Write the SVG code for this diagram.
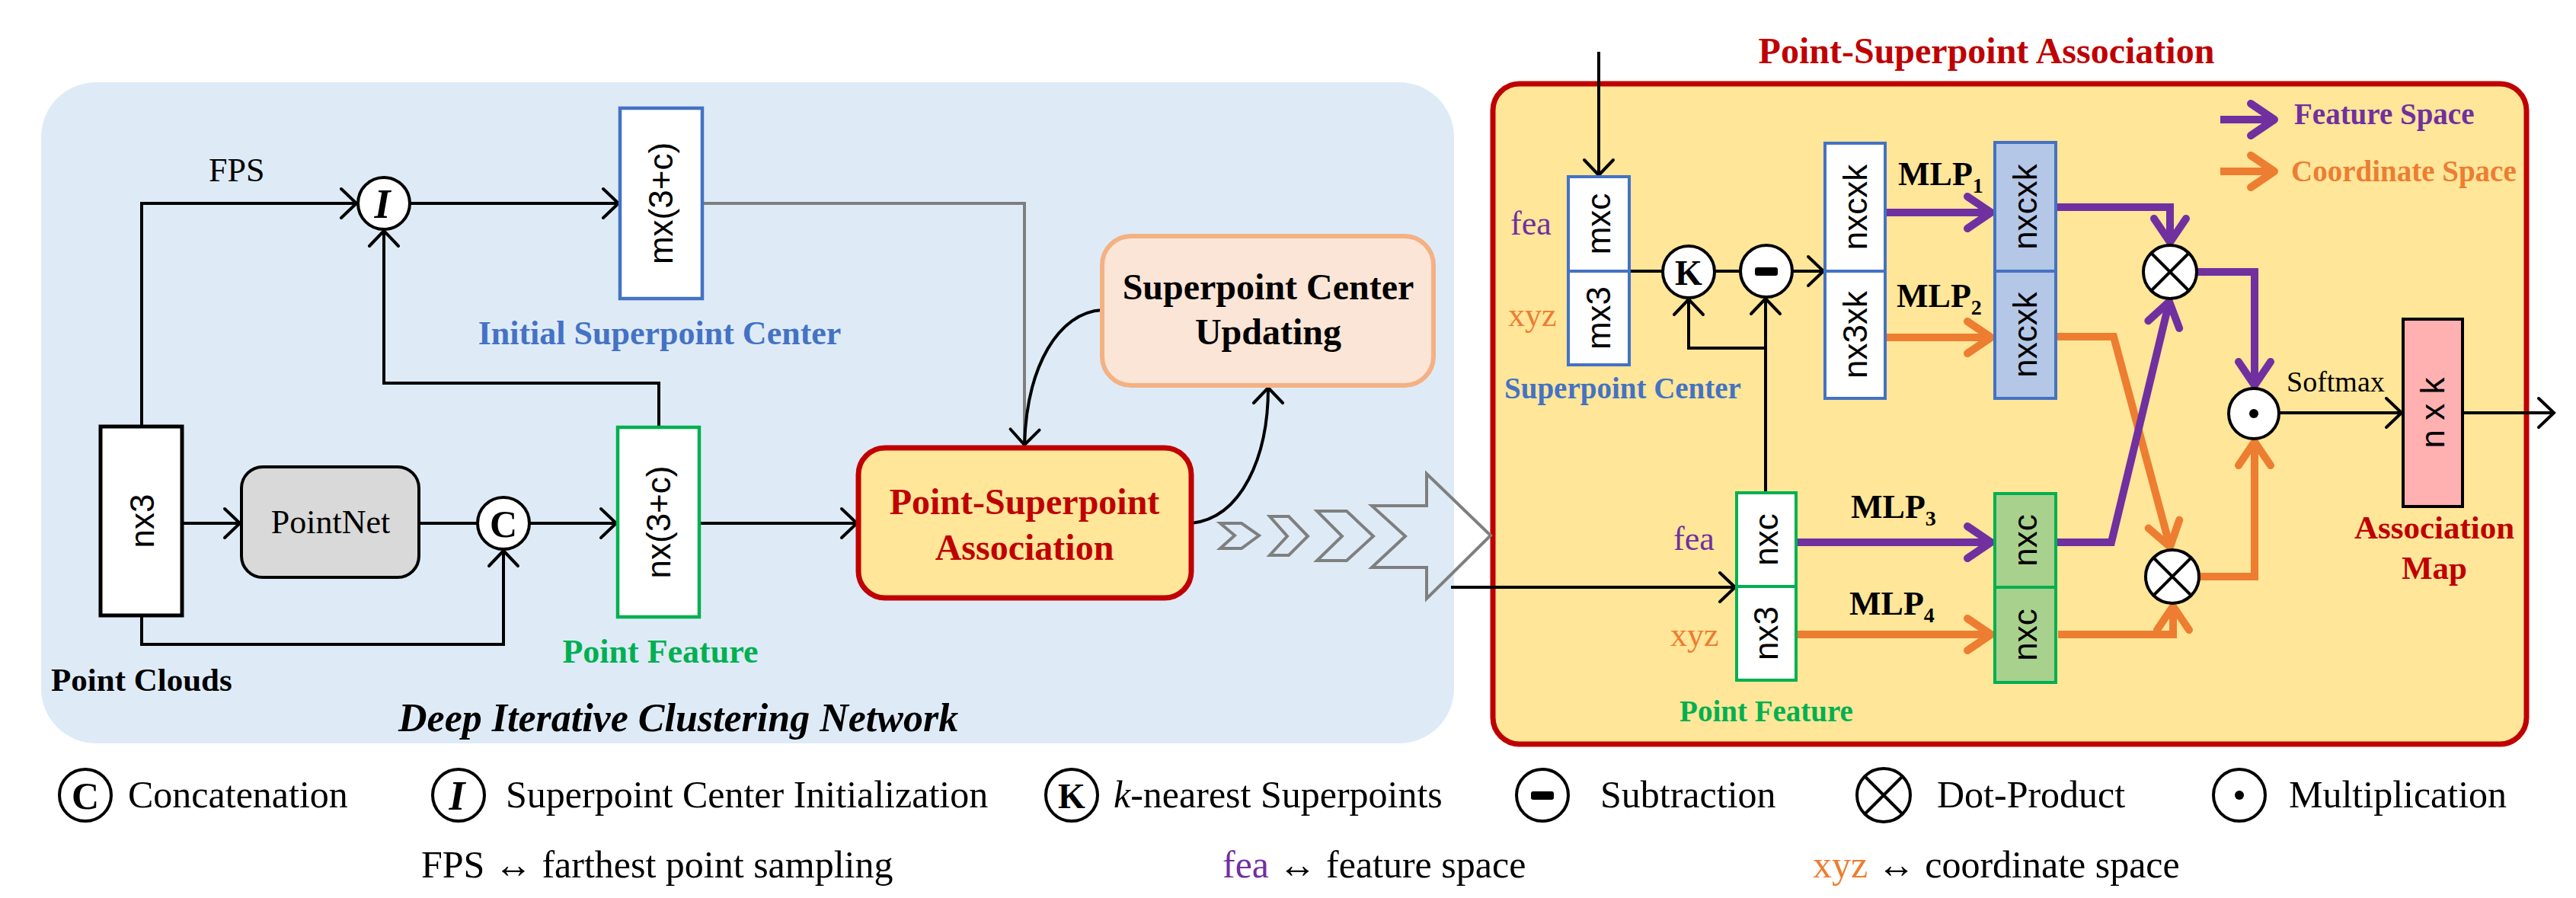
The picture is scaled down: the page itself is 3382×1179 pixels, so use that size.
<svg xmlns="http://www.w3.org/2000/svg" width="3382" height="1179" viewBox="0 0 3382 1179">
<style>
.sf{font-family:'Liberation Serif','Times New Roman',serif}
.ss{font-family:'Liberation Sans',Arial,sans-serif}
.bt{font-family:'Liberation Sans',Arial,sans-serif;font-size:44px;text-anchor:middle;fill:#000}
.blk{fill:none;stroke:#000;stroke-width:4}
.gry{fill:none;stroke:#7F7F7F;stroke-width:4}
.pur{fill:none;stroke:#7030A0;stroke-width:10}
.org{fill:none;stroke:#ED7D31;stroke-width:10}
.op{fill:#fff;stroke:#000;stroke-width:4}
.lg{font-family:'Liberation Serif','Times New Roman',serif;font-size:50px;fill:#000}
</style>
<defs>
<marker id="ab" markerUnits="userSpaceOnUse" orient="auto" viewBox="-30 -25 36 50" markerWidth="36" markerHeight="50" refX="0" refY="0">
<path d="M-20,-19 L0,0 L-20,19" fill="none" stroke="#000" stroke-width="4" stroke-linecap="round"/>
</marker>
<marker id="ap" markerUnits="userSpaceOnUse" orient="auto" viewBox="-45 -30 55 60" markerWidth="55" markerHeight="60" refX="0" refY="0">
<path d="M-31,-21 L0,0 L-31,21" fill="none" stroke="#7030A0" stroke-width="10" stroke-linecap="round" stroke-linejoin="round"/>
</marker>
<marker id="ao" markerUnits="userSpaceOnUse" orient="auto" viewBox="-45 -30 55 60" markerWidth="55" markerHeight="60" refX="0" refY="0">
<path d="M-31,-21 L0,0 L-31,21" fill="none" stroke="#ED7D31" stroke-width="10" stroke-linecap="round" stroke-linejoin="round"/>
</marker>
</defs>

<!-- backgrounds -->
<g id="dicn-panel">
<rect x="54" y="108" width="1855" height="868" rx="72" fill="#DEEBF7"/>
<text class="sf" x="523" y="960" font-size="52" font-weight="bold" font-style="italic">Deep Iterative Clustering Network</text>
</g>
<g id="psa-panel">
<text class="sf" x="2608" y="83" font-size="48" font-weight="bold" fill="#C00000" text-anchor="middle">Point-Superpoint Association</text>
<rect x="1960" y="110" width="1357" height="867" rx="35" fill="#FFE699" stroke="#C00000" stroke-width="7"/>
</g>

<!-- connectors -->
<g id="connectors">
<path class="blk" d="M186,560 V267 H468" marker-end="url(#ab)"/>
<path class="blk" d="M538,267 H812" marker-end="url(#ab)"/>
<path class="gry" d="M922,267 H1345 V584"/>
<path class="blk" d="M239,687 H315" marker-end="url(#ab)"/>
<path class="blk" d="M550,687 H627"/>
<path class="blk" d="M695,687 H809" marker-end="url(#ab)"/>
<path class="blk" d="M186,808 V846 H661 V723" marker-end="url(#ab)"/>
<path class="blk" d="M865,561 V503 H504 V303" marker-end="url(#ab)"/>
<path class="blk" d="M918,687 H1125" marker-end="url(#ab)"/>
<path class="blk" d="M1447,407 C1390,410 1348,480 1345,584" marker-end="url(#ab)"/>
<path class="blk" d="M1564,687 C1630,680 1665,600 1665,509" marker-end="url(#ab)"/>
<g class="gry">
<polygon points="1602,687 1630,687 1653,703 1630,720 1602,720 1621,703"/>
<polygon points="1667,678 1692,678 1717,704 1692,729 1667,729 1690,704"/>
<polygon points="1729,671 1768,671 1803,704 1768,736 1729,736 1762,704"/>
<polygon points="1801,664 1873,664 1873,622 1957,703 1873,786 1873,745 1801,745 1845,704"/>
</g>
<!-- right panel black -->
<path class="blk" d="M2099,68 V230" marker-end="url(#ab)"/>
<path class="blk" d="M2139,356 H2183"/>
<path class="blk" d="M2251,356 H2285"/>
<path class="blk" d="M2353,356 H2394" marker-end="url(#ab)"/>
<path class="blk" d="M2318,647 V392" marker-end="url(#ab)"/>
<path class="blk" d="M2318,457 H2217 V393" marker-end="url(#ab)"/>
<path class="blk" d="M1905,771 H2278" marker-end="url(#ab)"/>
<path class="blk" d="M2992,542 H3153" marker-end="url(#ab)"/>
<path class="blk" d="M3233,542 H3353" marker-end="url(#ab)"/>
<!-- purple / orange -->
<path class="pur" d="M2475,279 H2614" marker-end="url(#ap)"/>
<path class="org" d="M2475,443 H2614" marker-end="url(#ao)"/>
<path class="pur" d="M2358,712 H2614" marker-end="url(#ap)"/>
<path class="org" d="M2358,833 H2614" marker-end="url(#ao)"/>
<path class="pur" d="M2699,272 H2849 V318" marker-end="url(#ap)"/>
<path class="org" d="M2700,442 H2775 L2849,718" marker-end="url(#ao)"/>
<path class="pur" d="M2699,712 H2772 L2848,396" marker-end="url(#ap)"/>
<path class="org" d="M2702,833 H2853 V796" marker-end="url(#ao)"/>
<path class="pur" d="M2884,357 H2960 V506" marker-end="url(#ap)"/>
<path class="org" d="M2887,757 H2960 V580" marker-end="url(#ao)"/>
<path class="pur" d="M2915,157 H2986" marker-end="url(#ap)" stroke-width="11"/>
<path class="org" d="M2915,225 H2986" marker-end="url(#ao)" stroke-width="11"/>
</g>

<!-- left nodes -->
<g id="point-clouds">
<rect x="132" y="560" width="107" height="248" fill="#fff" stroke="#000" stroke-width="5"/>
<text class="bt" transform="translate(185.5,684) rotate(-90)" y="16">nx3</text>
<text class="sf" x="67" y="907" font-size="43" font-weight="bold">Point Clouds</text>
</g>
<g id="fps-label"><text class="sf" x="274" y="238" font-size="44">FPS</text></g>
<g id="pointnet">
<rect x="317" y="613" width="233" height="145" rx="28" fill="#D9D9D9" stroke="#000" stroke-width="4"/>
<text class="sf" x="434" y="700" font-size="44" text-anchor="middle">PointNet</text>
</g>
<g id="concat-op">
<circle class="op" cx="661" cy="687" r="34"/>
<text class="sf" x="661" y="705" font-size="50" font-weight="bold" text-anchor="middle">C</text>
</g>
<g id="init-op">
<circle class="op" cx="504" cy="267" r="34"/>
<text class="sf" x="502" y="286" font-size="54" font-weight="bold" font-style="italic" text-anchor="middle">I</text>
</g>
<g id="initial-superpoint-center">
<rect x="814" y="142" width="108" height="250" fill="#fff" stroke="#4472C4" stroke-width="4.5"/>
<text class="bt" transform="translate(868,267) rotate(-90)" y="15">mx(3+c)</text>
<text class="sf" x="866" y="452" font-size="44" font-weight="bold" fill="#4472C4" text-anchor="middle">Initial Superpoint Center</text>
</g>
<g id="point-feature-left">
<rect x="811" y="561" width="107" height="249" fill="#fff" stroke="#00B050" stroke-width="4.5"/>
<text class="bt" transform="translate(864.5,685.5) rotate(-90)" y="15">nx(3+c)</text>
<text class="sf" x="867" y="870" font-size="44" font-weight="bold" fill="#00B050" text-anchor="middle">Point Feature</text>
</g>
<g id="psa-node">
<rect x="1127" y="588" width="437" height="197" rx="35" fill="#FFE699" stroke="#C00000" stroke-width="7"/>
<text class="sf" x="1345" y="675" font-size="48" font-weight="bold" fill="#C00000" text-anchor="middle">Point-Superpoint</text>
<text class="sf" x="1345" y="735" font-size="48" font-weight="bold" fill="#C00000" text-anchor="middle">Association</text>
</g>
<g id="scu-node">
<rect x="1447" y="310" width="435" height="196" rx="38" fill="#FBE5D6" stroke="#F4B183" stroke-width="6"/>
<text class="sf" x="1665" y="393" font-size="48" font-weight="bold" text-anchor="middle">Superpoint Center</text>
<text class="sf" x="1665" y="452" font-size="48" font-weight="bold" text-anchor="middle">Updating</text>
</g>

<!-- right nodes -->
<g id="superpoint-center">
<rect x="2059" y="232" width="80" height="247" fill="#fff" stroke="#4472C4" stroke-width="4"/>
<line x1="2059" y1="356" x2="2139" y2="356" stroke="#4472C4" stroke-width="4"/>
<text class="bt" transform="translate(2099,294) rotate(-90)" y="15">mxc</text>
<text class="bt" transform="translate(2099,417.5) rotate(-90)" y="15">mx3</text>
<text class="sf" x="1983" y="308" font-size="44" fill="#7030A0">fea</text>
<text class="sf" x="1980" y="428" font-size="44" fill="#ED7D31">xyz</text>
<text class="sf" x="1975" y="523" font-size="39" font-weight="bold" fill="#4472C4">Superpoint Center</text>
</g>
<g id="knn-op">
<circle class="op" cx="2217" cy="357" r="34"/>
<text class="sf" x="2217" y="374" font-size="46" font-weight="bold" text-anchor="middle">K</text>
</g>
<g id="sub-op">
<circle class="op" cx="2319" cy="356" r="34"/>
<rect x="2304" y="351" width="30" height="11" rx="3" fill="#000"/>
</g>
<g id="grouped">
<rect x="2396" y="188" width="79" height="335" fill="#fff" stroke="#4472C4" stroke-width="4"/>
<line x1="2396" y1="356" x2="2475" y2="356" stroke="#4472C4" stroke-width="4"/>
<text class="bt" transform="translate(2435.5,272) rotate(-90)" y="15">nxcxk</text>
<text class="bt" transform="translate(2435.5,439.5) rotate(-90)" y="15">nx3xk</text>
</g>
<g id="mlp-labels">
<text class="sf" x="2492" y="243" font-size="44" font-weight="bold">MLP<tspan font-size="28" dy="10">1</tspan></text>
<text class="sf" x="2490" y="403" font-size="44" font-weight="bold">MLP<tspan font-size="28" dy="10">2</tspan></text>
<text class="sf" x="2430" y="680" font-size="44" font-weight="bold">MLP<tspan font-size="28" dy="10">3</tspan></text>
<text class="sf" x="2428" y="807" font-size="44" font-weight="bold">MLP<tspan font-size="28" dy="10">4</tspan></text>
</g>
<g id="embedded-center">
<rect x="2619" y="187" width="80" height="336" fill="#B4C7E7" stroke="#4472C4" stroke-width="4"/>
<line x1="2619" y1="356" x2="2699" y2="356" stroke="#4472C4" stroke-width="4"/>
<text class="bt" transform="translate(2659,271.5) rotate(-90)" y="15">nxcxk</text>
<text class="bt" transform="translate(2659,439.5) rotate(-90)" y="15">nxcxk</text>
</g>
<g id="point-feature-right">
<rect x="2280" y="647" width="78" height="246" fill="#fff" stroke="#00B050" stroke-width="4"/>
<line x1="2280" y1="770" x2="2358" y2="770" stroke="#00B050" stroke-width="4"/>
<text class="bt" transform="translate(2319,708.5) rotate(-90)" y="15">nxc</text>
<text class="bt" transform="translate(2319,831.5) rotate(-90)" y="15">nx3</text>
<text class="sf" x="2197" y="722" font-size="44" fill="#7030A0">fea</text>
<text class="sf" x="2193" y="848" font-size="44" fill="#ED7D31">xyz</text>
<text class="sf" x="2319" y="947" font-size="39" font-weight="bold" fill="#00B050" text-anchor="middle">Point Feature</text>
</g>
<g id="embedded-point">
<rect x="2619" y="648" width="80" height="248" fill="#A9D18E" stroke="#00B050" stroke-width="4"/>
<line x1="2619" y1="771" x2="2699" y2="771" stroke="#00B050" stroke-width="4"/>
<text class="bt" transform="translate(2659,709.5) rotate(-90)" y="15">nxc</text>
<text class="bt" transform="translate(2659,833.5) rotate(-90)" y="15">nxc</text>
</g>
<g id="dot-op-1">
<circle class="op" cx="2849" cy="357" r="35"/>
<path d="M2824,332 L2874,382 M2874,332 L2824,382" stroke="#000" stroke-width="4"/>
</g>
<g id="dot-op-2">
<circle class="op" cx="2852" cy="757" r="35"/>
<path d="M2827,732 L2877,782 M2877,732 L2827,782" stroke="#000" stroke-width="4"/>
</g>
<g id="mul-op">
<circle class="op" cx="2959" cy="543" r="33"/>
<circle cx="2959" cy="543" r="6" fill="#000"/>
</g>
<g id="softmax-label"><text class="sf" x="3002" y="514" font-size="38">Softmax</text></g>
<g id="association-map">
<rect x="3155" y="419" width="78" height="246" fill="#FFB0B0" stroke="#000" stroke-width="4"/>
<text class="bt" transform="translate(3194,542) rotate(-90)" y="15">n x k</text>
<text class="sf" x="3196" y="707" font-size="43" font-weight="bold" fill="#C00000" text-anchor="middle">Association</text>
<text class="sf" x="3196" y="760" font-size="43" font-weight="bold" fill="#C00000" text-anchor="middle">Map</text>
</g>
<g id="space-legend">
<text class="sf" x="3012" y="163" font-size="39" font-weight="bold" fill="#7030A0">Feature Space</text>
<text class="sf" x="3008" y="238" font-size="39" font-weight="bold" fill="#ED7D31">Coordinate Space</text>
</g>

<!-- legend -->
<g id="legend">
<circle class="op" cx="112" cy="1044" r="34"/>
<text class="sf" x="112" y="1062" font-size="50" font-weight="bold" text-anchor="middle">C</text>
<text class="lg" x="168" y="1060">Concatenation</text>
<circle class="op" cx="602" cy="1044" r="34"/>
<text class="sf" x="600" y="1063" font-size="54" font-weight="bold" font-style="italic" text-anchor="middle">I</text>
<text class="lg" x="664" y="1060">Superpoint Center Initialization</text>
<circle class="op" cx="1407" cy="1044" r="34"/>
<text class="sf" x="1407" y="1061" font-size="46" font-weight="bold" text-anchor="middle">K</text>
<text class="lg" x="1462" y="1060"><tspan font-style="italic">k</tspan>-nearest Superpoints</text>
<circle class="op" cx="2025" cy="1044" r="34"/>
<rect x="2010" y="1039" width="30" height="11" rx="3" fill="#000"/>
<text class="lg" x="2101" y="1060">Subtraction</text>
<circle class="op" cx="2473" cy="1044" r="35"/>
<path d="M2448,1019 L2498,1069 M2498,1019 L2448,1069" stroke="#000" stroke-width="4"/>
<text class="lg" x="2543" y="1060">Dot-Product</text>
<circle class="op" cx="2940" cy="1044" r="34"/>
<circle cx="2940" cy="1044" r="6" fill="#000"/>
<text class="lg" x="3005" y="1060">Multiplication</text>
<text class="lg" x="553" y="1152">FPS ↔ farthest point sampling</text>
<text class="lg" x="1605" y="1152"><tspan fill="#7030A0">fea</tspan> ↔ feature space</text>
<text class="lg" x="2380" y="1152"><tspan fill="#ED7D31">xyz</tspan> ↔ coordinate space</text>
</g>
</svg>
